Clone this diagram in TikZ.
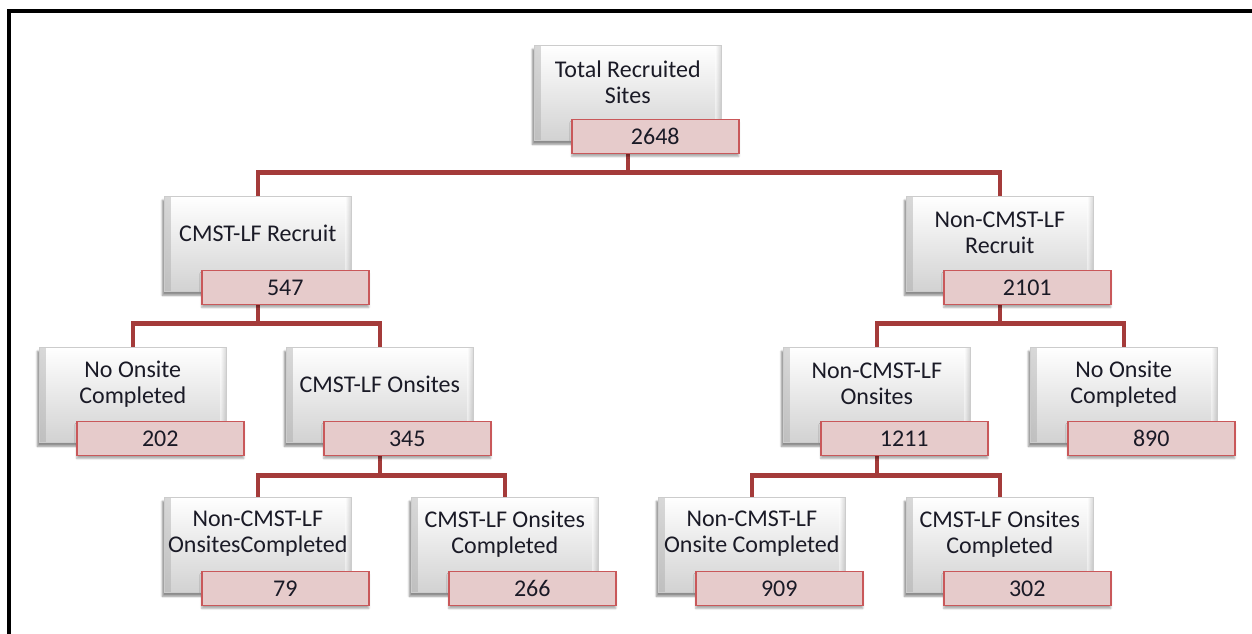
\documentclass[tikz,border=0pt]{standalone}
\usepackage{fontspec}
\setmainfont{Carlito}
\usetikzlibrary{shadows.blur, calc}
\pgfdeclarelayer{background}
\pgfsetlayers{background,main}

\definecolor{linkred}{HTML}{A43B3A}
\definecolor{numfill}{HTML}{E6CBCB}
\definecolor{numedge}{HTML}{C9585A}
\definecolor{boxgrey}{HTML}{D2D2D2}
\definecolor{edgegrey}{HTML}{A8A8A8}
\definecolor{ink}{HTML}{1A1A26}

\tikzset{
  mainbox/.style={rectangle, minimum width=187pt, minimum height=95pt, inner sep=0pt,
    top color=white, bottom color=boxgrey, draw=black!20, line width=0.6pt,
    blur shadow={shadow xshift=-2pt, shadow yshift=-4pt, shadow opacity=45, shadow blur steps=6},
    path picture={
      \shade[left color=edgegrey, right color=white, opacity=0.45]
        (path picture bounding box.south west) rectangle ([xshift=6pt]path picture bounding box.north west);
      \shade[left color=white, right color=edgegrey, opacity=0.45]
        ([xshift=-6pt]path picture bounding box.south east) rectangle (path picture bounding box.north east);
    }},
  numbox/.style={rectangle, minimum width=167pt, minimum height=34pt, inner sep=0pt,
    fill=numfill, draw=numedge, line width=1.6pt,
    blur shadow={shadow xshift=0pt, shadow yshift=-3pt, shadow opacity=35, shadow blur steps=5},
    font=\fontsize{24}{26}\selectfont, text=ink},
  labeltext/.style={align=center, font=\fontsize{24}{26}\selectfont, text=ink, inner sep=0pt},
  conn/.style={draw=linkred, line width=4.5pt},
  frameline/.style={line width=4.5pt, black}
}

% one tree entry: grey box, its caption and its count
\newcommand\treeentry[5]{%
  \node[mainbox, anchor=north west] (#1) at (#2,#3) {};
  \node[labeltext] (#1-t) at ([yshift=-37pt]#1.north) {#4};
  \node[numbox, anchor=north west] (#1-n) at ([xshift=37pt, yshift=22pt]#1.south west) {#5};
}

\begin{document}
\begin{tikzpicture}[x=1pt, y=-1pt]
  \useasboundingbox (0,0) rectangle (1252,634);
  \draw[frameline] (9,660) -- (9,11) -- (1280,11);

  \treeentry{tot}{534}{45}{Total Recruited\\Sites}{2648}
  \treeentry{cr}{164}{196}{CMST-LF Recruit}{547}
  \treeentry{ncr}{906}{196}{Non-CMST-LF\\Recruit}{2101}
  \treeentry{noa}{39}{347}{No Onsite\\Completed}{202}
  \treeentry{co}{286}{347}{CMST-LF Onsites}{345}
  \treeentry{nco}{783}{347}{Non-CMST-LF\\Onsites}{1211}
  \treeentry{nob}{1030}{347}{No Onsite\\Completed}{890}
  \treeentry{ncoc}{164}{497}{Non-CMST-LF\\OnsitesCompleted}{79}
  \treeentry{coc}{411}{497}{CMST-LF Onsites\\Completed}{266}
  \treeentry{ncod}{658}{497}{Non-CMST-LF\\Onsite Completed}{909}
  \treeentry{cocb}{906}{497}{CMST-LF Onsites\\Completed}{302}

  \begin{pgfonlayer}{background}
    % level 1
    \draw[conn] (tot.south) -- ++(0,32);
    \draw[conn] (cr.north) |- ($(tot.south)+(0,32)$) -| (ncr.north);
    % level 2
    \draw[conn] (cr.south) -- ++(0,32);
    \draw[conn] (noa.north) |- ($(cr.south)+(0,32)$) -| (co.north);
    \draw[conn] (ncr.south) -- ++(0,32);
    \draw[conn] (nco.north) |- ($(ncr.south)+(0,32)$) -| (nob.north);
    % level 3
    \draw[conn] (co.south) -- ++(0,33);
    \draw[conn] (ncoc.north) |- ($(co.south)+(0,33)$) -| (coc.north);
    \draw[conn] (nco.south) -- ++(0,33);
    \draw[conn] (ncod.north) |- ($(nco.south)+(0,33)$) -| (cocb.north);
  \end{pgfonlayer}
\end{tikzpicture}
\end{document}
